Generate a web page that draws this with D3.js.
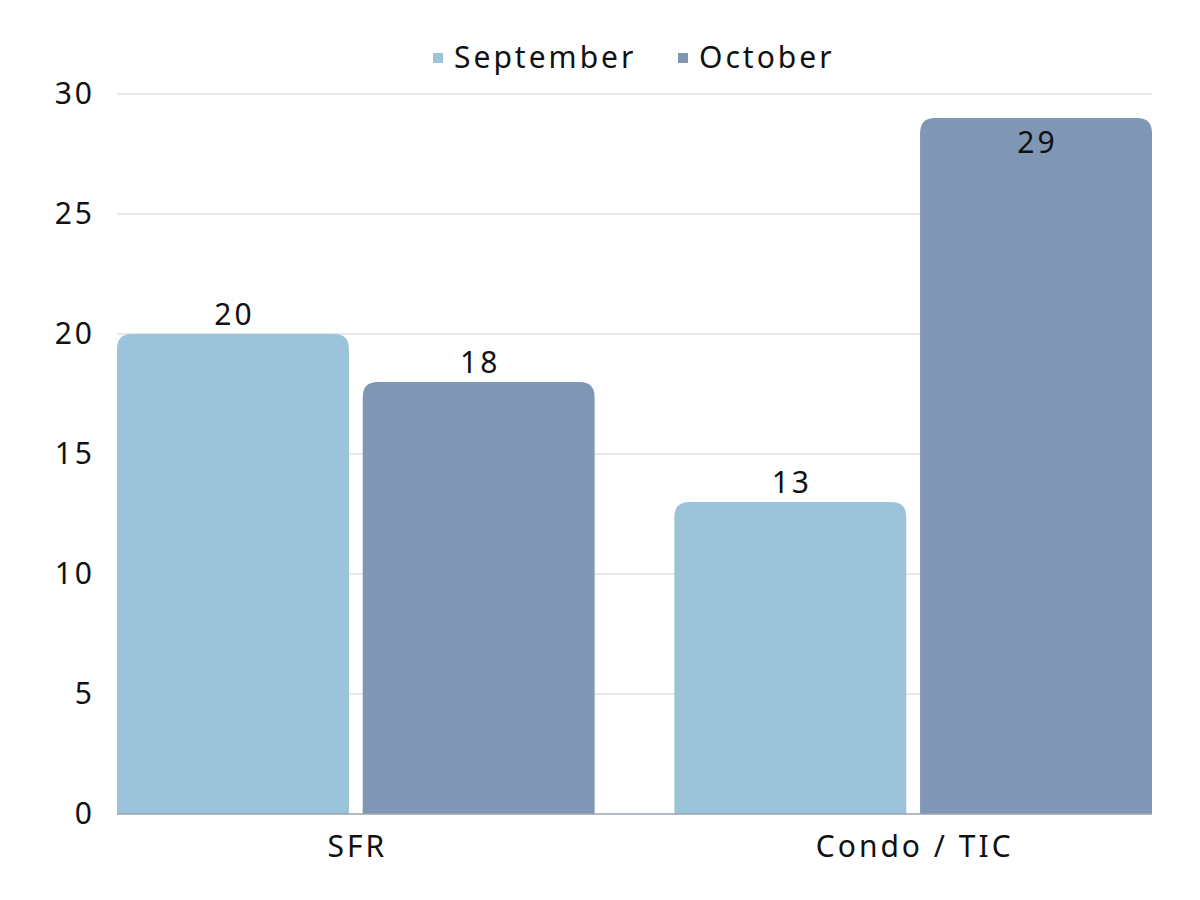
<!DOCTYPE html>
<html><head><meta charset="utf-8">
<script src="https://cdn.jsdelivr.net/npm/d3@7"></script>
<style>body{margin:0;background:#fff}svg{display:block}text{font-family:"Noto Sans",sans-serif;fill:#111;letter-spacing:3px}</style>
</head><body><svg id="c" width="1200" height="900"></svg>
<script>
const categories = ["SFR", "Condo / TIC"];
const seriesNames = ["September", "October"];
const september = [20, 13];
const october = [18, 29];
const yTicks = [0, 5, 10, 15, 20, 25, 30];
const colors = ["#9BC3D9", "#7F97B5"];

const svg = d3.select("#c");
const m = {l: 117, r: 1152, t: 94, b: 814};
const x0 = d3.scaleBand().domain(categories).range([m.l, m.r]).paddingInner(0.143).paddingOuter(0);
const x1 = d3.scaleBand().domain(seriesNames).range([0, x0.bandwidth()]).paddingInner(0.056);
const y = d3.scaleLinear().domain([0, 30]).range([m.b, m.t]);
const fs = 30;

// gridlines
svg.append("g").selectAll("line").data(yTicks.filter(d => d > 0)).join("line")
  .attr("x1", m.l).attr("x2", m.r).attr("y1", d => y(d)).attr("y2", d => y(d))
  .attr("stroke", "#cfcfcf").attr("stroke-width", 1);

// y axis labels
const ya = svg.append("g").attr("transform", `translate(${m.l - 22},0)`)
  .call(d3.axisLeft(y).tickValues(yTicks).tickSize(0).tickPadding(0));
ya.select(".domain").remove();
ya.selectAll("text").attr("font-size", fs).attr("font-family", "Noto Sans").attr("fill", "#111");

const data = categories.map((c, i) => ({cat: c, vals: [september[i], october[i]]}));
const r = 15;
function topRounded(x, yTop, w, h) {
  const rr = Math.min(r, h, w / 2);
  return `M${x},${yTop + h}V${yTop + rr}Q${x},${yTop} ${x + rr},${yTop}H${x + w - rr}Q${x + w},${yTop} ${x + w},${yTop + rr}V${yTop + h}Z`;
}
const g = svg.append("g").selectAll("g").data(data).join("g")
  .attr("transform", d => `translate(${x0(d.cat)},0)`);
g.selectAll("path").data(d => d.vals.map((v, j) => ({s: seriesNames[j], v, j}))).join("path")
  .attr("d", d => topRounded(x1(d.s), y(d.v), x1.bandwidth(), y(0) - y(d.v)))
  .attr("fill", d => colors[d.j]);
g.selectAll("text.lbl").data(d => d.vals.map((v, j) => ({s: seriesNames[j], v, j}))).join("text")
  .attr("class", "lbl")
  .attr("x", d => x1(d.s) + x1.bandwidth() / 2 + 1.5)
  .attr("y", d => y(d.v) > 140 ? y(d.v) - 9 : y(d.v) + 35)
  .attr("text-anchor", "middle").attr("font-size", fs).text(d => d.v);

// baseline
svg.append("line").attr("x1", m.l).attr("x2", m.r).attr("y1", y(0)).attr("y2", y(0))
  .attr("stroke", "#9aa3ad").attr("stroke-width", 1.5);

// x axis labels
const xa = svg.append("g").attr("transform", `translate(1.5,${y(0)})`)
  .call(d3.axisBottom(x0).tickSize(0).tickPadding(22));
xa.select(".domain").remove();
xa.selectAll("text").attr("font-size", fs).attr("font-family", "Noto Sans").attr("fill", "#111").attr("dy", "0.71em");

// legend
const leg = svg.append("g");
const legX = [433, 678];
seriesNames.forEach((s, i) => {
  leg.append("rect").attr("x", legX[i]).attr("y", 53).attr("width", 10).attr("height", 10).attr("fill", colors[i]);
  leg.append("text").attr("x", legX[i] + 21).attr("y", 68).attr("font-size", fs).text(s);
});
</script></body></html>
